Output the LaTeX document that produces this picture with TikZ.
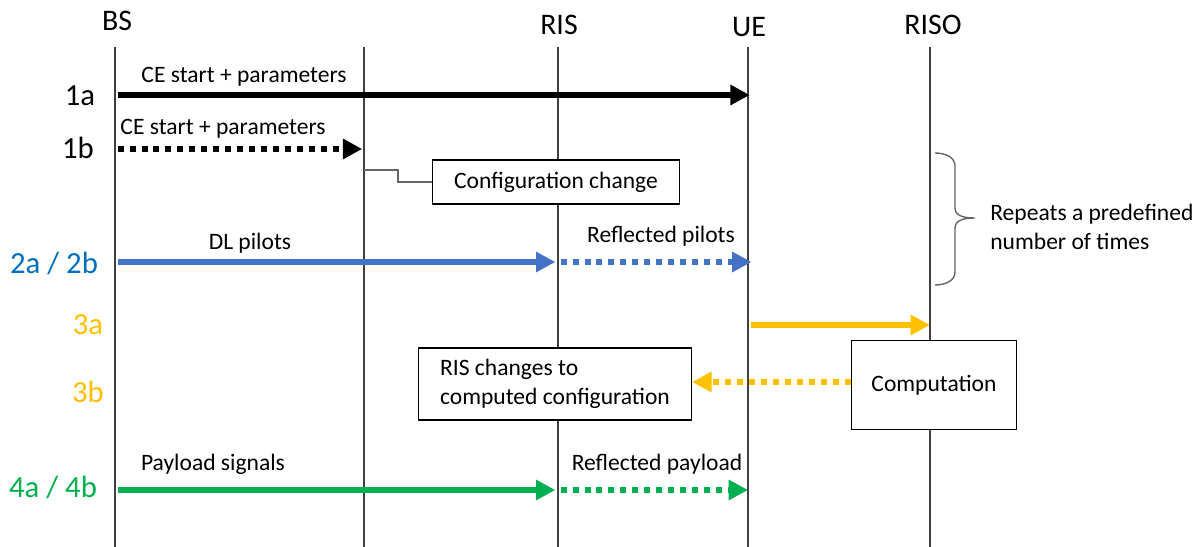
\documentclass[tikz,border=0pt]{standalone}
\usepackage{fontspec}
\setmainfont{Carlito}
\usetikzlibrary{arrows.meta}
\definecolor{pilotblue}{RGB}{68,114,196}
\definecolor{tagblue}{RGB}{0,112,192}
\definecolor{ctrlyellow}{RGB}{255,192,0}
\definecolor{loadgreen}{RGB}{0,176,80}

\begin{document}
\begin{tikzpicture}[x=0.02cm,y=-0.02cm]
	\tikzstyle{every node}+=[inner sep=0pt]
	\tikzstyle{head}=[font=\fontsize{17}{20}\selectfont]
	\tikzstyle{tag}=[font=\fontsize{17.5}{21}\selectfont]
	\tikzstyle{txt}=[font=\fontsize{13.4}{16.4}\selectfont]
	\tikzstyle{life}=[black!75, line width=0.6pt]
	\tikzstyle{sig}=[line width=3.4pt, -{Triangle[length=11pt,width=11pt]}]
	\tikzstyle{dotsig}=[sig, dash pattern=on 3.4pt off 3.4pt]
	\tikzstyle{box}=[draw, fill=white, line width=0.8pt, txt]
	\useasboundingbox (0,0) rectangle (1203,547);
	\node[head] (bs) at (117,21) {BS};
	\node[head] (ris) at (559,25) {RIS};
	\node[head] (ue) at (749,27) {UE};
	\node[head] (riso) at (933,25) {RISO};
	\coordinate (bsT) at (115,47);
	\coordinate (midT) at (364,47);
	\coordinate (risT) at (558,47);
	\coordinate (ueT) at (748,47);
	\coordinate (risoT) at (930,47);
	\coordinate (bot) at (0,547);
	\draw[life] (bsT) -- (bsT |- bot);
	\draw[life] (midT) -- (midT |- bot);
	\draw[life] (risT) -- (risT |- bot);
	\draw[life] (ueT) -- (ueT |- bot);
	\draw[life] (risoT) -- (risoT |- bot);
	\coordinate (r1a) at (0,95);
	\coordinate (r1b) at (0,149);
	\coordinate (r2) at (0,262);
	\coordinate (r3a) at (0,325);
	\coordinate (r4) at (0,490);
	\node[tag] (l1a) at (80,96) {1a};
	\node[tag] (l1b) at (78,148) {1b};
	\node[tag, text=tagblue] (l2) at (54,263) {2a / 2b};
	\node[tag, text=ctrlyellow] (l3a) at (88,325) {3a};
	\node[tag, text=ctrlyellow] (l3b) at (88,392) {3b};
	\node[tag, text=loadgreen] (l4) at (53,487) {4a / 4b};
	\draw[sig] ([xshift=1.5pt]bsT |- r1a) -- ([xshift=1pt]ueT |- r1a);
	\node[txt] (m1a) at (244,77) {CE start + parameters};
	\draw[dotsig] ([xshift=1.5pt]bsT |- r1b) -- ([xshift=-1pt]midT |- r1b);
	\node[txt] (m1b) at (223,129) {CE start + parameters};
	\node[box, minimum width=4.94cm, minimum height=0.88cm] (cfg) at (556,182) {Configuration change};
	\coordinate (cfgtap) at (364,170);
	\draw[black!60, line width=0.6pt] (cfgtap) -- ++(34,0) |- (cfg.west);
	\draw[sig, pilotblue] ([xshift=1.5pt]bsT |- r2) -- ([xshift=-1.5pt]risT |- r2);
	\draw[dotsig, pilotblue] ([xshift=1.5pt]risT |- r2) -- ([xshift=2pt]ueT |- r2);
	\node[txt] (m2a) at (250,243) {DL pilots};
	\node[txt] (m2b) at (661,236) {Reflected pilots};
	\coordinate (brTop) at (935,153);
	\coordinate (brBot) at (935,285);
	\draw[black!60, line width=0.8pt] (brTop) to[out=0,in=90] (955,166) -- (955,208)
		to[out=-90,in=180] (975,218) to[out=180,in=90] (955,228) -- (955,272)
		to[out=-90,in=0] (brBot);
	\node[txt, anchor=west, align=left] (rep) at (990,227) {Repeats a predefined\\number of times};
	\draw[sig, ctrlyellow] ([xshift=1.5pt]ueT |- r3a) -- (risoT |- r3a);
	\node[box, minimum width=5.46cm, minimum height=1.44cm, align=left] (chg) at (555,384) {RIS changes to\\computed configuration};
	\node[box, minimum width=3.3cm, minimum height=1.78cm] (comp) at (934,385) {Computation};
	\draw[dotsig, ctrlyellow] (comp.west |- 0,382) -- (chg.east |- 0,382);
	\draw[sig, loadgreen] ([xshift=1.5pt]bsT |- r4) -- ([xshift=-1.5pt]risT |- r4);
	\draw[dotsig, loadgreen] ([xshift=1.5pt]risT |- r4) -- (ueT |- r4);
	\node[txt] (m4a) at (213,464) {Payload signals};
	\node[txt] (m4b) at (657,464) {Reflected payload};
\end{tikzpicture}
\end{document}
